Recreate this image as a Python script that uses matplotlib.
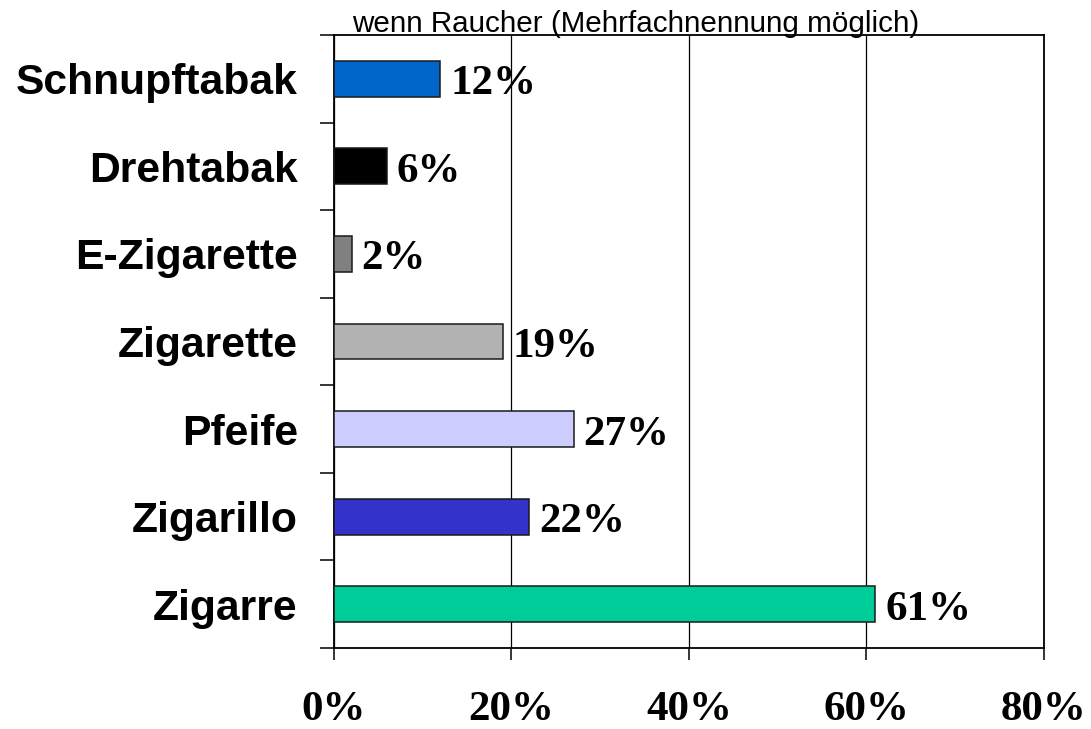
import numpy as np
import matplotlib.pyplot as plt

# values, top to bottom
categories = ["Schnupftabak", "Drehtabak", "E-Zigarette", "Zigarette", "Pfeife", "Zigarillo", "Zigarre"]
shares = [12, 6, 2, 19, 27, 22, 61]
bar_colors = ["#0066CC", "#000000", "#808080", "#B2B2B2", "#CCCCFF", "#3333CC", "#00CC99"]
xticks = [0, 20, 40, 60, 80]
title = "wenn Raucher (Mehrfachnennung möglich)"

fig = plt.figure(figsize=(10.91, 7.29), dpi=100)
ax = fig.add_axes([0.3061, 0.1111, 0.6508, 0.8409])

ypos = np.arange(len(categories))[::-1]
ax.barh(ypos, shares, height=0.41, color=bar_colors, edgecolor="#1a1a1a", linewidth=1.1, zorder=3)

for y, v in zip(ypos, shares):
    ax.annotate(f"{v}%", (v, y), xytext=(7, -4), textcoords="offset points",
                va="center", ha="left", fontsize=31, fontweight="bold",
                family="Liberation Serif", zorder=4)

ax.set_xlim(0, 80)
ax.set_ylim(-0.5, len(categories) - 0.5)

ax.set_xticks(xticks)
ax.set_xticklabels([f"{t}%" for t in xticks], fontsize=31, fontweight="bold", family="Liberation Serif")
ax.tick_params(axis="x", direction="out", length=8.6, width=1.1, pad=22)

ax.set_yticks(ypos)
ax.set_yticklabels(categories, fontsize=30.7, fontweight="bold", family="Liberation Sans")
ax.tick_params(axis="y", which="major", length=0, pad=26)
ax.set_yticks(np.arange(-0.5, len(categories), 1), minor=True)
ax.tick_params(axis="y", which="minor", direction="out", length=10, width=1.1)

ax.grid(axis="x", color="black", linewidth=0.9, zorder=1)
ax.set_axisbelow(True)
for s in ax.spines.values():
    s.set_linewidth(1.3)

fig.text(0.583, 1 - 32 / 729, title, ha="center", va="baseline", fontsize=21.3, family="Liberation Sans")

fig.savefig("out.png", dpi=100)
